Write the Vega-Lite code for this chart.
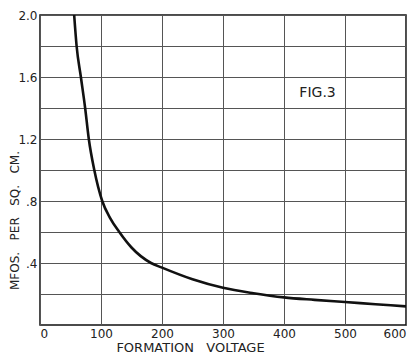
{
  "$schema": "https://vega.github.io/schema/vega-lite/v6.json",
  "width": 366,
  "height": 310,
  "autosize": "none",
  "padding": {"left": 40, "top": 15, "right": 4, "bottom": 34},
  "background": "white",
  "config": {
    "view": {"stroke": "#111", "strokeWidth": 1.5},
    "font": "DejaVu Sans"
  },
  "datasets": {
    "curve": [
      {"v": 56, "c": 2.0},
      {"v": 60, "c": 1.8},
      {"v": 67, "c": 1.6},
      {"v": 74, "c": 1.4},
      {"v": 80, "c": 1.2},
      {"v": 89, "c": 1.0},
      {"v": 102, "c": 0.8},
      {"v": 115, "c": 0.69},
      {"v": 130, "c": 0.6},
      {"v": 150, "c": 0.5},
      {"v": 182, "c": 0.4},
      {"v": 200, "c": 0.37},
      {"v": 250, "c": 0.295},
      {"v": 300, "c": 0.24},
      {"v": 350, "c": 0.205},
      {"v": 400, "c": 0.178},
      {"v": 450, "c": 0.162},
      {"v": 500, "c": 0.148},
      {"v": 550, "c": 0.134},
      {"v": 600, "c": 0.12}
    ],
    "label": [{"v": 455, "c": 1.5, "t": "FIG.3"}]
  },
  "encoding": {
    "x": {
      "field": "v", "type": "quantitative",
      "scale": {"domain": [0, 600], "nice": false},
      "axis": {
        "title": "FORMATION\u00a0\u00a0\u00a0VOLTAGE",
        "values": [0, 100, 200, 300, 400, 500, 600],
        "grid": true, "gridColor": "#555", "gridWidth": 1, "gridOpacity": 1,
        "ticks": false, "domain": false, "labelOverlap": false,
        "labelFontSize": 12, "labelColor": "#222", "labelPadding": 3,
        "labelFlush": true,
        "titleFontSize": 13, "titleFontWeight": "normal", "titleColor": "#222",
        "titleX": 150, "titleY": 16, "titleBaseline": "top", "titleAnchor": "middle"
      }
    },
    "y": {
      "field": "c", "type": "quantitative",
      "scale": {"domain": [0, 2], "nice": false},
      "axis": {
        "title": "MFOS.\u00a0\u00a0\u00a0PER\u00a0\u00a0\u00a0SQ.\u00a0\u00a0\u00a0CM.",
        "values": [0.2, 0.4, 0.6, 0.8, 1.0, 1.2, 1.4, 1.6, 1.8, 2.0],
        "labelExpr": "abs(datum.value - 2) < 0.01 ? '2.0' : abs(datum.value - 1.6) < 0.01 ? '1.6' : abs(datum.value - 1.2) < 0.01 ? '1.2' : abs(datum.value - 0.8) < 0.01 ? '.8' : abs(datum.value - 0.4) < 0.01 ? '.4' : ''",
        "grid": true, "gridColor": "#555", "gridWidth": 1, "gridOpacity": 1,
        "ticks": false, "domain": false, "labelOverlap": false,
        "labelFontSize": 12, "labelColor": "#222", "labelPadding": 3,
        "titleFontSize": 12, "titleFontWeight": "normal", "titleColor": "#222",
        "titleX": -26, "titleY": 205, "titleAngle": -90, "titleAnchor": "middle", "titleBaseline": "middle"
      }
    }
  },
  "layer": [
    {
      "data": {"name": "curve"},
      "mark": {"type": "line", "color": "#111", "strokeWidth": 2.6, "interpolate": "monotone", "clip": true}
    },
    {
      "data": {"name": "label"},
      "mark": {"type": "text", "fontSize": 14, "color": "#222", "align": "center", "baseline": "middle"},
      "encoding": {
        "text": {"field": "t"}
      }
    }
  ]
}
